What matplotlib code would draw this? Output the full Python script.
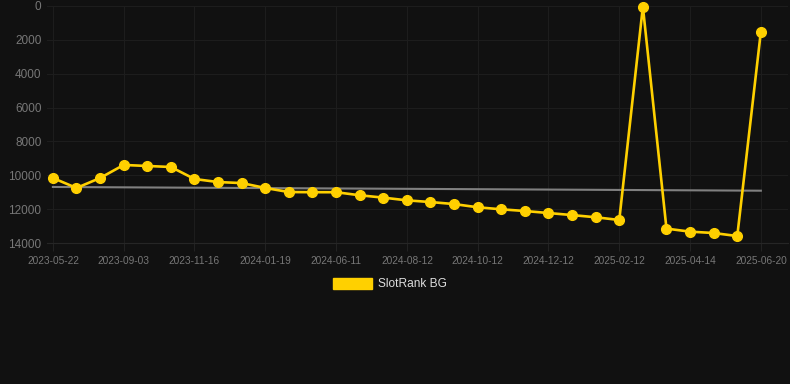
import numpy as np
import matplotlib
matplotlib.use("Agg")
import matplotlib.pyplot as plt

# weekly-ish rank snapshots, x axis is categorical (one slot per snapshot)
labels = ["2023-05-22", "2023-09-03", "2023-11-16", "2024-01-19", "2024-06-11",
          "2024-08-12", "2024-10-12", "2024-12-12", "2025-02-12", "2025-04-14",
          "2025-06-20"]
rank = [10160, 10750, 10160, 9390, 9450, 9510, 10220, 10400, 10460, 10750,
        10990, 11000, 11000, 11180, 11320, 11480, 11580, 11700, 11890, 12010,
        12110, 12230, 12350, 12480, 12640, 40, 13150, 13330, 13410, 13590, 1520]
trend = [10690, 10910]  # start / end of the grey trend line
yticks = [0, 2000, 4000, 6000, 8000, 10000, 12000, 14000]

bg = "#111111"
yellow = "#FFD000"
plt.rcParams['font.family'] = ['Liberation Sans', 'DejaVu Sans']

fig = plt.figure(figsize=(7.9, 3.84), dpi=100, facecolor=bg)
ax = fig.add_axes([47 / 790, 1 - 243 / 384, 741 / 790, 237 / 384], facecolor=bg)

x = np.arange(len(rank))
ax.plot([x[0], x[-1]], trend, color="#808080", lw=1.5, zorder=2)
ax.plot(x, rank, color=yellow, lw=1.9, marker="o", ms=7, zorder=3, clip_on=False)

ax.set_ylim(14000, 0)
ax.set_xlim(-0.25, 31.15)
ax.set_yticks(yticks)
ax.set_yticklabels([str(v) for v in yticks])
ax.set_xticks(x[::3])
ax.set_xticklabels(labels)

ax.grid(True, color="#1d1d1d", lw=0.8)
ax.set_axisbelow(True)
for s in ax.spines.values():
    s.set_visible(False)
ax.spines["bottom"].set_visible(True)
ax.spines["bottom"].set_color("#262626")
ax.tick_params(axis="y", length=0, pad=4, labelsize=8.5, labelcolor="#777777")
ax.tick_params(axis="x", length=6, color="#222222", pad=3, labelsize=7.3, labelcolor="#777777")

# legend below the chart
fig.patches.append(plt.Rectangle((333 / 790, 1 - 289 / 384), 39 / 790, 11 / 384,
                                 transform=fig.transFigure, color=yellow))
fig.text(378 / 790, 1 - 284 / 384, "SlotRank BG", color="#dddddd", fontsize=8.6, va="center")

fig.savefig("out.png", dpi=100, facecolor=bg)
